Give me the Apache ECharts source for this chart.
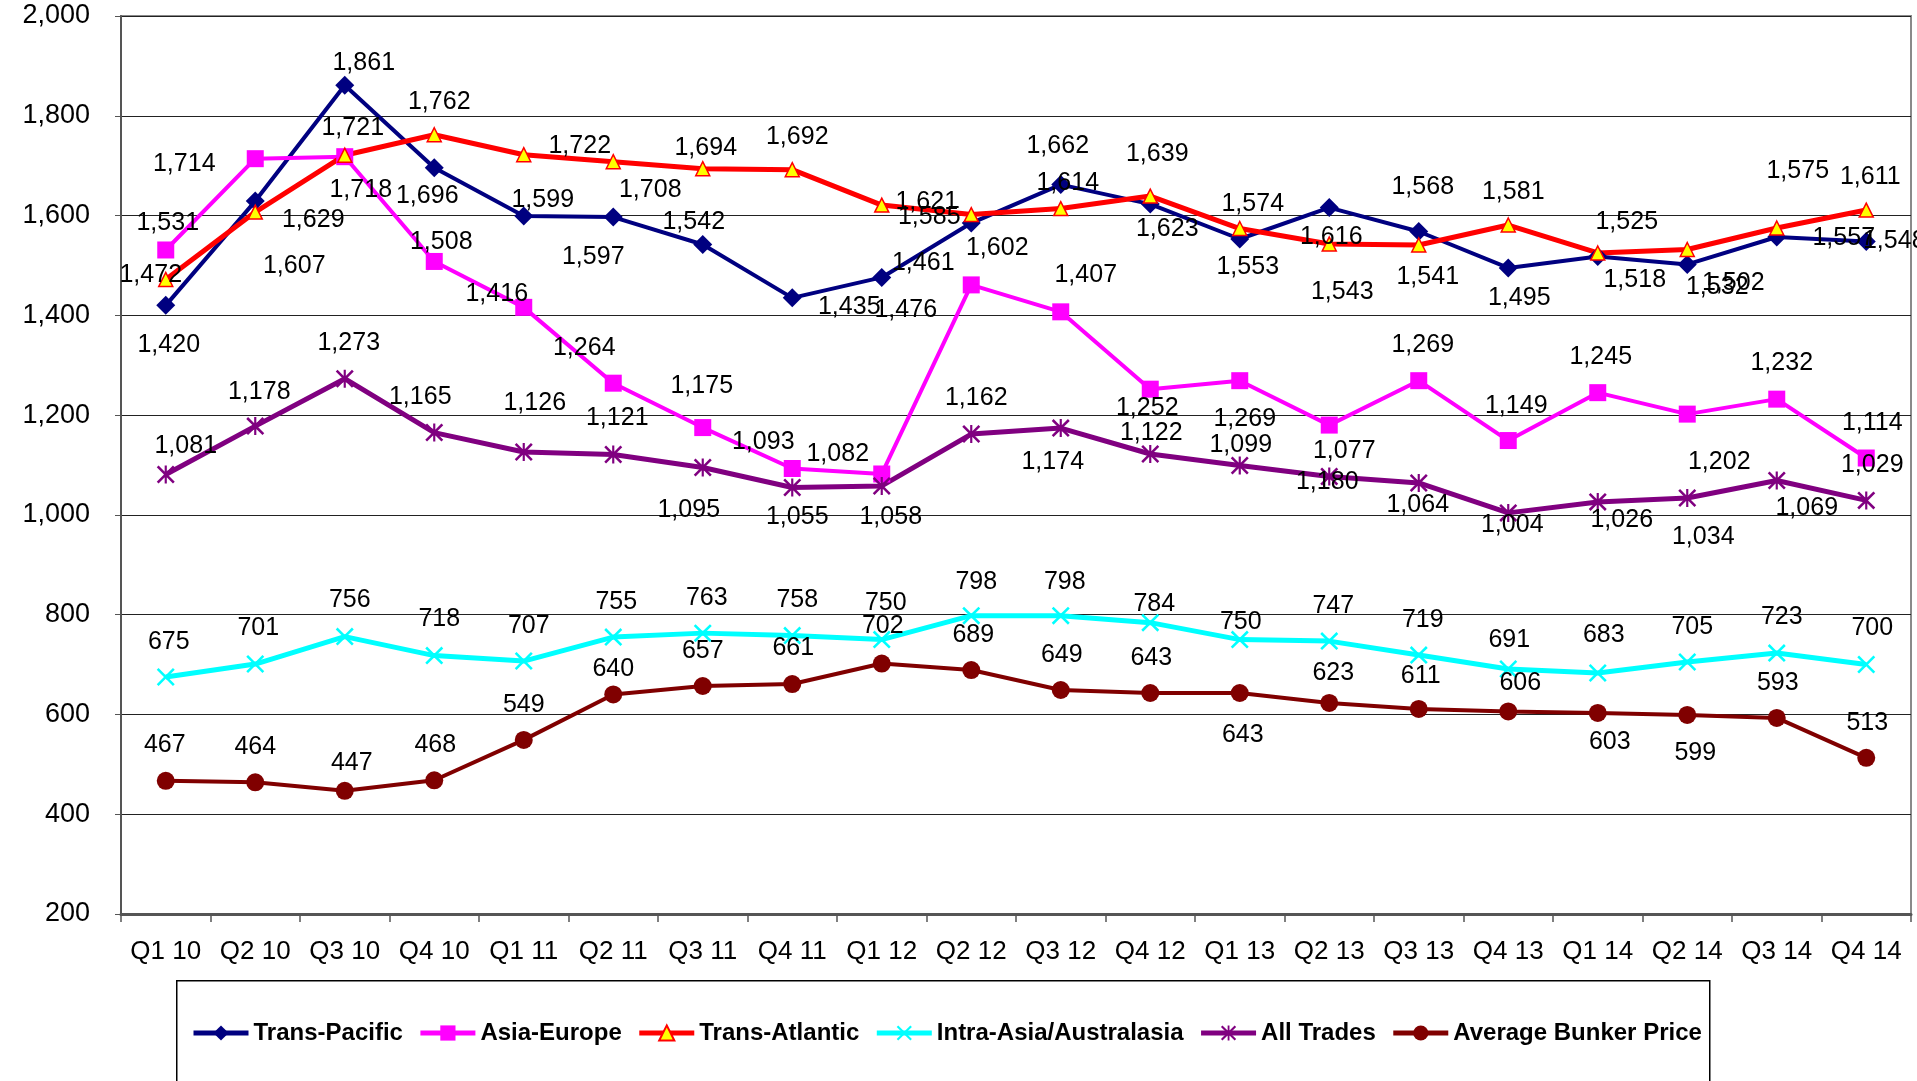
<!DOCTYPE html>
<html><head><meta charset="utf-8">
<script src="https://cdn.jsdelivr.net/npm/echarts@6/dist/echarts.min.js"></script>
<style>html,body{margin:0;padding:0;background:#fff}#c{width:1917px;height:1081px}</style>
</head><body><div id="c"></div>
<script>
// ---- data ----
const categories = ['Q1 10','Q2 10','Q3 10','Q4 10','Q1 11','Q2 11','Q3 11','Q4 11','Q1 12','Q2 12','Q3 12','Q4 12','Q1 13','Q2 13','Q3 13','Q4 13','Q1 14','Q2 14','Q3 14','Q4 14'];
const transPacific  = [1420,1629,1861,1696,1599,1597,1542,1435,1476,1585,1662,1623,1553,1616,1568,1495,1518,1502,1557,1548];
const asiaEurope    = [1531,1714,1718,1508,1416,1264,1175,1093,1082,1461,1407,1252,1269,1180,1269,1149,1245,1202,1232,1114];
const transAtlantic = [1472,1607,1721,1762,1722,1708,1694,1692,1621,1602,1614,1639,1574,1543,1541,1581,1525,1532,1575,1611];
const intraAsia     = [675,701,756,718,707,755,763,758,750,798,798,784,750,747,719,691,683,705,723,700];
const allTrades     = [1081,1178,1273,1165,1126,1121,1095,1055,1058,1162,1174,1122,1099,1077,1064,1004,1026,1034,1069,1029];
const bunkerPrice   = [467,464,447,468,549,640,657,661,702,689,649,643,643,623,611,606,603,599,593,513];
const seriesNames   = ['Trans-Pacific','Asia-Europe','Trans-Atlantic','Intra-Asia/Australasia','All Trades','Average Bunker Price'];
const yMin = 200, yMax = 2000, yInterval = 200;

// ---- label placement (style only, pixel offsets of each value label from its marker) ----
const labelOffsets = {
  tp: [[3,40],[58,19],[19,-22],[-7,28],[19,-16],[-20,40],[-9,-22],[57,9],[24,33],[-42,-6],[-3,-39],[17,25],[8,28],[2,30],[4,-44],[11,30],[37,24],[46,19],[67,1],[28,0]],
  ae: [[2,-27],[-71,5],[16,33],[7,-19],[-27,-13],[-29,-35],[-1,-41],[-29,-26],[-44,-20],[-48,-22],[25,-37],[-3,19],[5,38],[-2,57],[4,-36],[8,-34],[3,-36],[32,48],[5,-36],[6,-35]],
  ta: [[-15,-4],[39,54],[8,-27],[5,-33],[56,-9],[37,28],[3,-21],[5,-33],[45,-3],[26,34],[7,-25],[7,-42],[13,-24],[13,48],[9,32],[5,-33],[29,-31],[30,38],[21,-57],[4,-33]],
  ia: [[3,-35],[3,-36],[5,-37],[5,-36],[5,-35],[3,-35],[4,-35],[5,-36],[4,-37],[5,-34],[4,-34],[4,-19],[1,-18],[4,-35],[4,-35],[1,-29],[6,-38],[5,-35],[5,-36],[6,-36]],
  at: [[20,-28],[4,-34],[4,-36],[-14,-35],[11,-49],[4,-36],[-14,43],[5,30],[9,31],[5,-36],[-8,34],[1,-21],[1,-20],[15,-25],[-1,22],[4,12],[24,18],[16,39],[30,28],[6,-35]],
  bp: [[-1,-36],[0,-35],[7,-28],[1,-35],[0,-35],[0,-25],[0,-35],[1,-36],[1,-37],[2,-35],[1,-35],[1,-35],[3,42],[4,-30],[2,-33],[12,-28],[12,29],[8,38],[1,-35],[1,-35]]
};

const FONT = 'Liberation Sans, Arial, sans-serif';
const fmt = v => Number(v).toLocaleString('en-US');
const xPath = 'path://M0,1L1,0L5,4L9,0L10,1L6,5L10,9L9,10L5,6L1,10L0,9L4,5Z';
const starPath = 'path://M0,1L1,0L5,4L9,0L10,1L6,5L10,9L9,10L5,6L1,10L0,9L4,5ZM4.4,0L5.6,0L5.6,10L4.4,10Z';

function build(values, offs) {
  return values.map((v, i) => ({ value: v, label: { offset: offs[i] } }));
}
function mk(name, values, offs, lineColor, width, symbol, size, itemStyle) {
  return {
    name, type: 'line', data: build(values, offs),
    symbol, symbolSize: size, showAllSymbol: true, symbolKeepAspect: true,
    lineStyle: { color: lineColor, width },
    itemStyle: Object.assign({ color: lineColor }, itemStyle || {}),
    label: { show: true, position: 'inside', color: '#000', fontFamily: FONT, fontSize: 25, formatter: p => fmt(p.value) },
    emphasis: { disabled: true },
    z: 2
  };
}

const chart = echarts.init(document.getElementById('c'), null, { renderer: 'canvas' });
chart.setOption({
  animation: false,
  backgroundColor: '#fff',
  grid: { left: 121, right: 6, top: 16, bottom: 167, show: true, borderColor: '#8a8a8a', borderWidth: 2, containLabel: false },
  graphic: [{
    type: 'rect', left: 176, top: 980, shape: { width: 1533, height: 120 },
    style: { fill: '#fff', stroke: '#000', lineWidth: 1.5 }, z: 0
  }],
  legend: {
    data: seriesNames, left: 191, top: 1018, padding: 0, itemGap: 15, itemWidth: 55, itemHeight: 19,
    lineStyle: { width: 5 },
    textStyle: { fontFamily: FONT, fontSize: 24, fontWeight: 'bold', color: '#000', lineHeight: 30 },
    z: 5
  },
  xAxis: {
    type: 'category', data: categories, boundaryGap: true,
    axisLine: { lineStyle: { color: '#555', width: 3 } },
    axisTick: { show: true, length: 8, lineStyle: { color: '#555', width: 1.5 } },
    axisLabel: { interval: 0, margin: 25, color: '#000', fontFamily: FONT, fontSize: 26 },
    splitLine: { show: false }
  },
  yAxis: {
    type: 'value', min: yMin, max: yMax, interval: yInterval,
    axisLine: { show: true, lineStyle: { color: '#555', width: 2 } },
    axisTick: { show: true, length: 6, lineStyle: { color: '#555' } },
    axisLabel: { margin: 31, color: '#000', fontFamily: FONT, fontSize: 27, formatter: v => fmt(v) },
    splitLine: { show: true, lineStyle: { color: '#222', width: 1.2 } }
  },
  series: [
    mk(seriesNames[0], transPacific, labelOffsets.tp, '#000080', 4, 'diamond', 19),
    mk(seriesNames[1], asiaEurope, labelOffsets.ae, '#FF00FF', 4, 'rect', 17),
    mk(seriesNames[2], transAtlantic, labelOffsets.ta, '#FF0000', 5, 'triangle', 14, { color: '#FFFF00', borderColor: '#FF0000', borderWidth: 1.5 }),
    mk(seriesNames[3], intraAsia, labelOffsets.ia, '#00FFFF', 5, xPath, 18),
    mk(seriesNames[4], allTrades, labelOffsets.at, '#800080', 5, starPath, 18),
    mk(seriesNames[5], bunkerPrice, labelOffsets.bp, '#800000', 4, 'circle', 18)
  ]
});
</script>
</body></html>
